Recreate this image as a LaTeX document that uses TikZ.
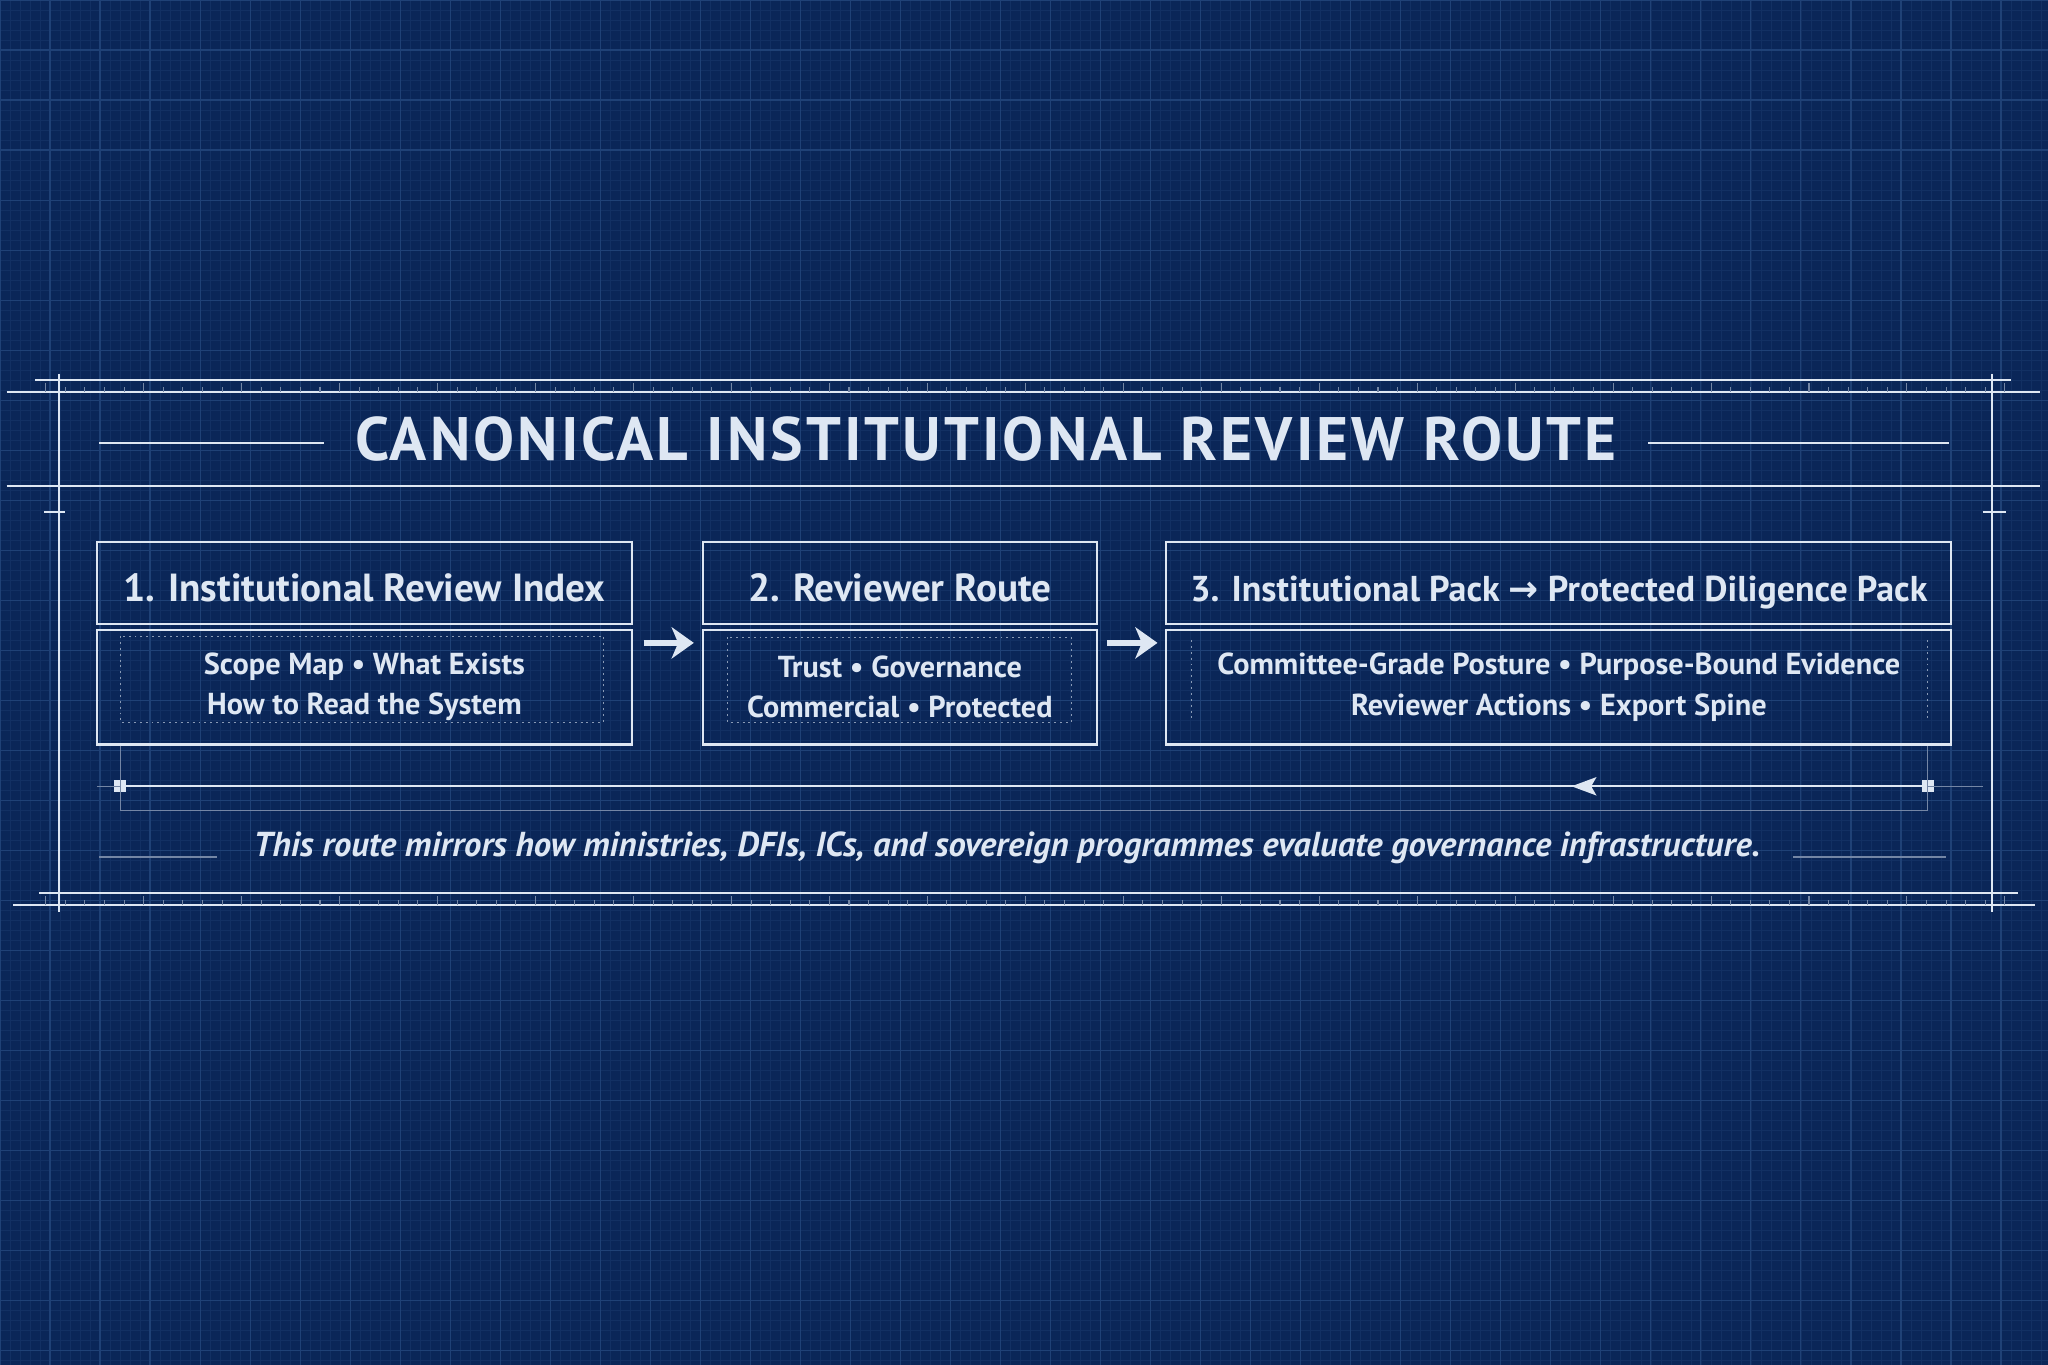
\documentclass[tikz,border=0pt]{standalone}
\usepackage{fontspec}
\setmainfont{PT Sans}
\newfontfamily\titlefont[LetterSpace=5]{PT Sans}
\newfontfamily\symfont{DejaVu Sans}
\usetikzlibrary{arrows.meta,decorations.markings,positioning}

\definecolor{navy}{RGB}{10,38,88}
\definecolor{gridminor}{RGB}{18,48,99}
\definecolor{gridmajor}{RGB}{31,65,118}
\definecolor{ink}{RGB}{222,231,243}

\tikzset{
  rule/.style={draw=ink, line width=1.6pt},
  thinrule/.style={draw=ink!50!navy, line width=0.8pt},
  head/.style={draw=ink, line width=1.6pt, rectangle, minimum height=63pt, inner sep=0pt,
    text height=28pt, text depth=0pt, text=ink, font=\bfseries\fontsize{30}{36}\selectfont},
  body/.style={draw=ink, line width=1.6pt, rectangle, minimum height=88pt, inner sep=0pt,
    align=center, text=ink, font=\bfseries\fontsize{23.2}{31}\selectfont},
  innerdot/.style={draw=ink!60!navy, line width=0.8pt, dash pattern=on 1.5pt off 3pt},
  flow/.style={draw=ink, line width=4.5pt, -{Stealth[length=17pt,width=24pt,inset=5pt]}},
  endsq/.style={fill=ink, minimum size=9pt, inner sep=0pt},
}

\begin{document}
\begin{tikzpicture}[x=1pt,y=-1pt]
	\useasboundingbox (0,0) rectangle (1568,1045);
	% blueprint paper
	\fill[navy] (0,0) rectangle (1568,1045);
	\foreach \i in {0,...,204} \draw[gridminor, line width=0.5pt] (\i*7.66,0) -- (\i*7.66,1045);
	\foreach \i in {0,...,136} \draw[gridminor, line width=0.5pt] (0,\i*7.66) -- (1568,\i*7.66);
	\foreach \i in {0,...,41} \draw[gridmajor, line width=0.9pt] (\i*38.3,0) -- (\i*38.3,1045);
	\foreach \i in {0,...,27} \draw[gridmajor, line width=0.9pt] (0,\i*38.3) -- (1568,\i*38.3);

	% frame with rulers
	\draw[rule] (27,291) -- (1540,291);
	\draw[rule] (5,300) -- (1562,300);
	\draw[rule] (5,372) -- (1562,372);
	\draw[rule] (30,684) -- (1545,684);
	\draw[rule] (10,693) -- (1558,693);
	\foreach \i in {0,...,100} \draw[thinrule] (35+\i*15,300) -- (35+\i*15,296);
	\foreach \i in {0,...,20} \draw[thinrule] (35+\i*75,300) -- (35+\i*75,293);
	\foreach \i in {0,...,100} \draw[thinrule] (35+\i*15,693) -- (35+\i*15,689);
	\foreach \i in {0,...,20} \draw[thinrule] (35+\i*75,693) -- (35+\i*75,686);
	\draw[rule] (45,286) -- (45,698);
	\draw[rule] (1525,286) -- (1525,698);
	\draw[rule] (34,392) -- (50,392);
	\draw[rule] (1518,392) -- (1536,392);

	% title
	\node[text=ink, font=\titlefont\bfseries\fontsize{47}{56}\selectfont] (title) at (755,336) {CANONICAL INSTITUTIONAL REVIEW ROUTE};
	\draw[rule] (76,339) -- (248,339);
	\draw[rule] (1262,339) -- (1492,339);

	% the three steps
	\node[head, minimum width=410pt] (h1) at (279,446.5) {1. Institutional Review Index};
	\node[body, minimum width=410pt] (b1) at (279,526) {Scope Map \textbullet{} What Exists\\How to Read the System};
	\node[head, minimum width=302pt] (h2) at (689,446.5) {2. Reviewer Route};
	\node[body, minimum width=302pt] (b2) at (689,526) {Trust \textbullet{} Governance\\Commercial \textbullet{} Protected};
	\node[head, minimum width=601pt, font=\bfseries\fontsize{27.5}{33}\selectfont] (h3) at (1193.5,446.5) {3. Institutional Pack {\symfont\bfseries →} Protected Diligence Pack};
	\node[body, minimum width=601pt] (b3) at (1193.5,526) {Committee-Grade Posture \textbullet{} Purpose-Bound Evidence\\Reviewer Actions \textbullet{} Export Spine};
	\draw[innerdot] (92,487) rectangle (462,553);
	\draw[innerdot] (557,488) rectangle (820,553);
	\draw[innerdot] (912,490) -- (912,553);
	\draw[innerdot] (1476,490) -- (1476,553);

	\draw[flow] ([xshift=8pt,yshift=-11pt]b1.north east) -- ([xshift=-6pt,yshift=-11pt]b2.north west);
	\draw[flow] ([xshift=7pt,yshift=-11pt]b2.north east) -- ([xshift=-6pt,yshift=-11pt]b3.north west);

	% return line
	\node[endsq] (sqL) at (92,602) {};
	\node[endsq] (sqR) at (1476,602) {};
	\draw[thinrule] (b1.south -| sqL) -- ++(0,50) -| (b3.south -| sqR);
	\draw[thinrule] (sqL.center) -- ++(-18,0);
	\draw[thinrule] (sqR.center) -- ++(42,0);
	\draw[rule, postaction={decorate}, decoration={markings,
		mark=at position 0.195 with {\arrow{Stealth[length=19pt,width=14pt,inset=4pt]}}}] (sqR) -- (sqL);

	% note
	\node[text=ink, font=\bfseries\itshape\fontsize{26.5}{31}\selectfont] (note) at (771,649) {This route mirrors how ministries, DFIs, ICs, and sovereign programmes evaluate governance infrastructure.};
	\draw[thinrule, line width=1.2pt] (76,656) -- (166,656);
	\draw[thinrule, line width=1.2pt] (1373,656) -- (1490,656);
\end{tikzpicture}
\end{document}
